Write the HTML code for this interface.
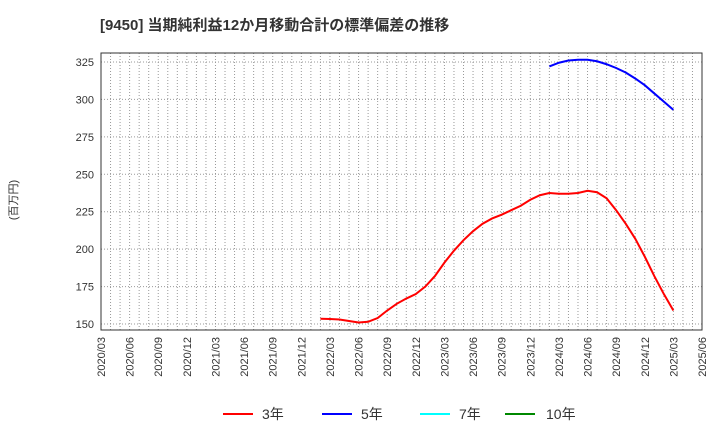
<!DOCTYPE html>
<html><head><meta charset="utf-8"><style>body{margin:0;background:#fff}svg{font-family:"Liberation Sans","Noto Sans CJK JP",sans-serif}</style></head>
<body>
<svg id="c" width="720" height="440" xmlns="http://www.w3.org/2000/svg">
<text x="100" y="30" font-size="15" font-weight="bold" fill="#333">[9450]  当期純利益12か月移動合計の標準偏差の推移</text>
<text transform="translate(17,200) rotate(-90)" font-size="11" fill="#333" text-anchor="middle">(百万円)</text>
<g id="grid"></g><g id="axes"></g><g id="series"></g>
<g>
<line x1="223" y1="414" x2="253" y2="414" stroke="#f00" stroke-width="2"/><text x="262" y="419" font-size="14" fill="#333">3年</text>
<line x1="322" y1="414" x2="352" y2="414" stroke="#00f" stroke-width="2"/><text x="361" y="419" font-size="14" fill="#333">5年</text>
<line x1="420" y1="414" x2="450" y2="414" stroke="#0ff" stroke-width="2"/><text x="459" y="419" font-size="14" fill="#333">7年</text>
<line x1="505" y1="414" x2="535" y2="414" stroke="#080" stroke-width="2"/><text x="546" y="419" font-size="14" fill="#333">10年</text>
</g>
</svg>
<script>
const yTicks=[150,175,200,225,250,275,300,325];
const xLabels=["2020/03","2020/06","2020/09","2020/12","2021/03","2021/06","2021/09","2021/12","2022/03","2022/06","2022/09","2022/12","2023/03","2023/06","2023/09","2023/12","2024/03","2024/06","2024/09","2024/12","2025/03","2025/06"];
const red3Start=23; // months after 2020/03 (2022/02)
const red3=[153.5,153.3,153,152,151,151.5,154,159,163.5,167,170,175,182,191,199,206,212,217,220.5,223,226,229,233,236,237.5,237,237,237.5,239,238,234,226,217,207,195,182,170,159];
const blue5Start=47; // 2024/02
const blue5=[322,324.5,326,326.5,326.5,325.5,323.5,321,318,314,309.5,304,298.5,293];
const L=101,R=702,T=53,B=330,NM=63;
const xs=m=>L+(R-L)*m/NM;
const ys=v=>324-(v-150)*(324-62)/175;
const ns="http://www.w3.org/2000/svg";
function mk(t,a,p){const e=document.createElementNS(ns,t);for(const k in a)e.setAttribute(k,a[k]);p.appendChild(e);return e;}
const g=document.getElementById('grid'),ax=document.getElementById('axes'),s=document.getElementById('series');
for(let m=0;m<=NM;m++){const l=mk('line',{x1:xs(m),x2:xs(m),y1:T,y2:B,stroke:'#999','stroke-dasharray':'1,2','stroke-width':1},g);

}
yTicks.forEach(v=>{const l=mk('line',{x1:L,x2:R,y1:ys(v),y2:ys(v),stroke:'#999','stroke-dasharray':'1,2'},g);


const t=mk('text',{x:L-7,y:ys(v)+4,'text-anchor':'end','font-size':11,fill:'#333'},ax);t.textContent=v;

});
xLabels.forEach((lb,i)=>{const x=xs(i*3);const t=mk('text',{transform:`translate(${x+4},337) rotate(-90)`,'text-anchor':'end','font-size':11,fill:'#333'},ax);t.textContent=lb;

});
const fr=mk('rect',{x:L,y:T,width:R-L,height:B-T,fill:'none',stroke:'#333'},ax);


function line(d,st,c,n){const p=mk('polyline',{points:d.map((v,i)=>xs(st+i)+','+ys(v)).join(' '),fill:'none',stroke:c,'stroke-width':2},s);

}
line(red3,red3Start,'#f00','series-3yr');
line(blue5,blue5Start,'#00f','series-5yr');
</script>
</body></html>
